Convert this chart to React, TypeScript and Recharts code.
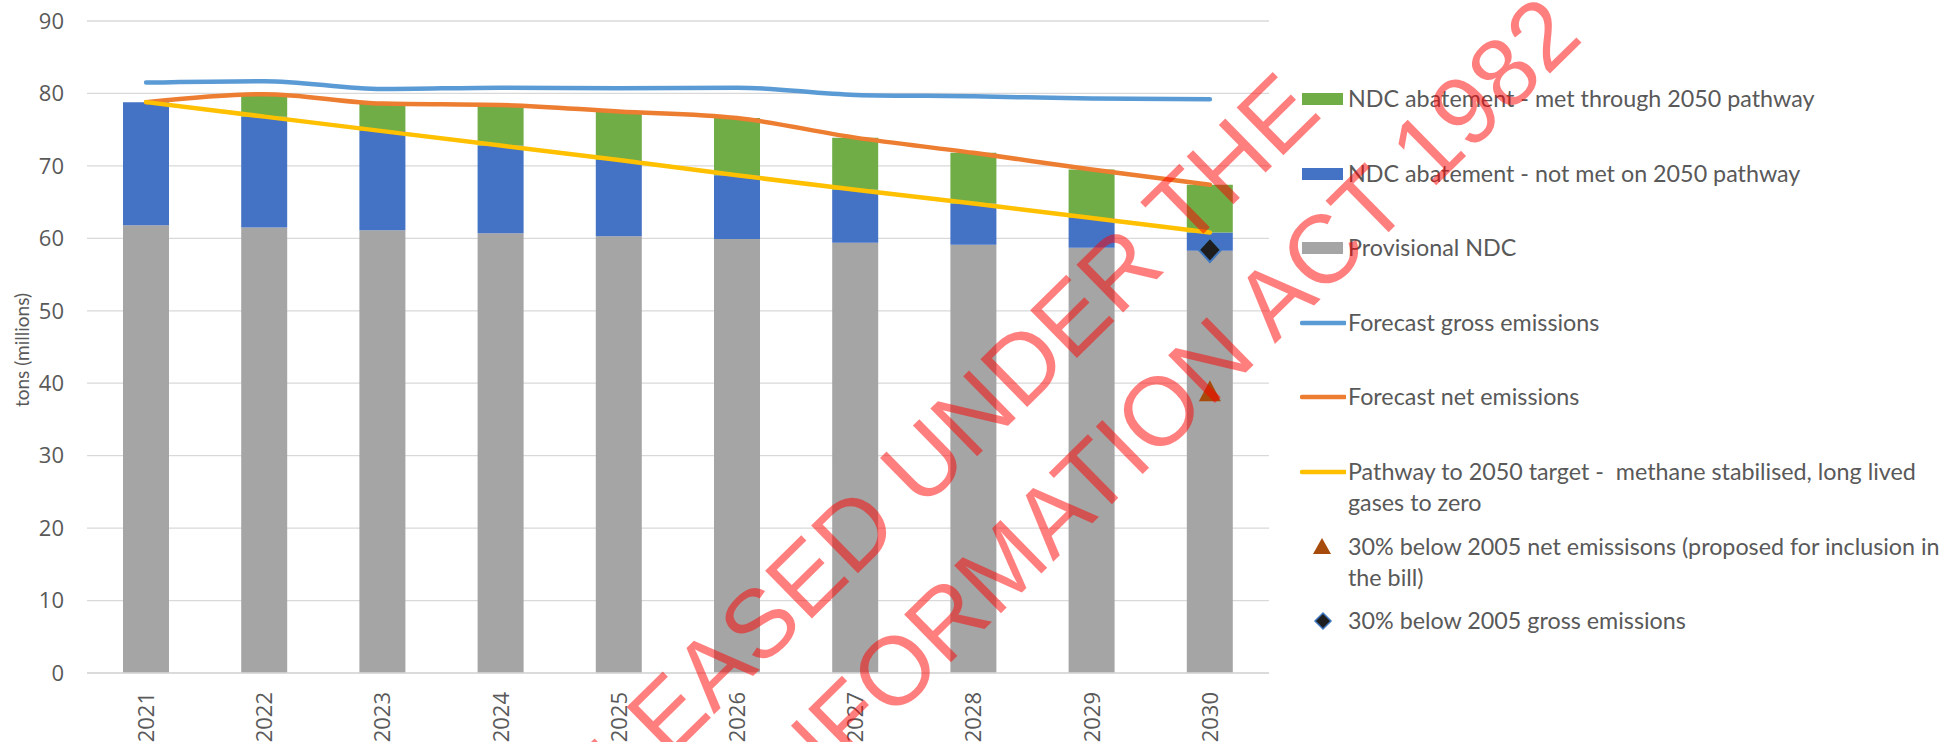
import React from "react";
import {
  ComposedChart,
  Bar,
  Line,
  XAxis,
  YAxis,
  CartesianGrid,
  Label,
} from "recharts";

// values (tons, millions)
const YEARS = ["2021", "2022", "2023", "2024", "2025", "2026", "2027", "2028", "2029", "2030"];
const PROVISIONAL_NDC = [61.8, 61.5, 61.1, 60.7, 60.3, 59.9, 59.4, 59.1, 58.7, 58.3];
const NOT_MET = [17.0, 15.3, 13.7, 12.1, 10.5, 8.8, 7.3, 5.7, 4.1, 2.5];
const MET = [0, 3.1, 3.8, 5.6, 6.7, 7.9, 7.2, 7.0, 6.7, 6.6];
const GROSS = [81.5, 81.7, 80.6, 80.8, 80.7, 80.8, 79.8, 79.6, 79.3, 79.2];
const NET = [78.8, 79.9, 78.6, 78.4, 77.5, 76.6, 73.9, 71.8, 69.5, 67.4];
const PATHWAY = [78.8, 76.8, 74.8, 72.8, 70.8, 68.7, 66.7, 64.8, 62.8, 60.8];
const NET_2005_TARGET = [null, null, null, null, null, null, null, null, null, 38.9];
const GROSS_2005_TARGET = [null, null, null, null, null, null, null, null, null, 58.4];
const Y_TICKS = [0, 10, 20, 30, 40, 50, 60, 70, 80, 90];

const COLORS = {
  met: "#70AD47",
  notMet: "#4472C4",
  provisional: "#A5A5A5",
  gross: "#5B9BD5",
  net: "#ED7D31",
  pathway: "#FFC000",
  triangle: "#A64B0C",
  diamond: "#1E1E1E",
  diamondEdge: "#3F78C0",
};

const LEGEND = [
  { kind: "rect", color: COLORS.met, lines: ["NDC abatement - met through 2050 pathway"] },
  { kind: "rect", color: COLORS.notMet, lines: ["NDC abatement - not met on 2050 pathway"] },
  { kind: "rect", color: COLORS.provisional, lines: ["Provisional NDC"] },
  { kind: "line", color: COLORS.gross, lines: ["Forecast gross emissions"] },
  { kind: "line", color: COLORS.net, lines: ["Forecast net emissions"] },
  {
    kind: "line",
    color: COLORS.pathway,
    lines: ["Pathway to 2050 target -  methane stabilised, long lived", "gases to zero"],
  },
  {
    kind: "triangle",
    color: COLORS.triangle,
    lines: ["30% below 2005 net emissisons (proposed for inclusion in", "the bill)"],
  },
  { kind: "diamond", color: COLORS.diamond, lines: ["30% below 2005 gross emissions"] },
];

const data = YEARS.map((year, i) => ({
  year,
  provisional: PROVISIONAL_NDC[i],
  notMet: NOT_MET[i],
  met: MET[i],
  gross: GROSS[i],
  net: NET[i],
  pathway: PATHWAY[i],
  net2005: NET_2005_TARGET[i],
  gross2005: GROSS_2005_TARGET[i],
}));

const GRAY_TEXT = "#595959";

const YearTick = (props: any) => {
  const { x, y, payload } = props;
  return (
    <g transform={`translate(${x},${y + 17})`}>
      <text
        transform="rotate(-90)"
        textAnchor="end"
        dy="0.36em"
        fill={GRAY_TEXT}
        fontFamily="Open Sans"
        fontSize={22}
      >
        {payload.value}
      </text>
    </g>
  );
};

const TriangleDot = (props: any) => {
  const { cx, cy, value, index } = props;
  if (value == null || cx == null || cy == null) return <g key={`t${index}`} />;
  return (
    <polygon
      key={`t${index}`}
      points={`${cx},${cy - 11} ${cx + 11},${cy + 10} ${cx - 11},${cy + 10}`}
      fill={COLORS.triangle}
    />
  );
};

const DiamondDot = (props: any) => {
  const { cx, cy, value, index } = props;
  if (value == null || cx == null || cy == null) return <g key={`d${index}`} />;
  return (
    <polygon
      key={`d${index}`}
      points={`${cx},${cy - 12} ${cx + 11},${cy} ${cx},${cy + 12} ${cx - 11},${cy}`}
      fill={COLORS.diamond}
      stroke={COLORS.diamondEdge}
      strokeWidth={2}
    />
  );
};

const LegendIcon = ({ kind, color }: { kind: string; color: string }) => {
  if (kind === "rect")
    return (
      <svg width={46} height={31} style={{ position: "absolute", left: 0, top: 0 }}>
        <rect x={2} y={10} width={41} height={12} fill={color} />
      </svg>
    );
  if (kind === "line")
    return (
      <svg width={46} height={31} style={{ position: "absolute", left: 0, top: 0 }}>
        <line x1={2} y1={16} x2={45} y2={16} stroke={color} strokeWidth={4.5} strokeLinecap="round" />
      </svg>
    );
  if (kind === "triangle")
    return (
      <svg width={46} height={31} style={{ position: "absolute", left: 0, top: 0 }}>
        <polygon points="22,7 31,23 13,23" fill={color} />
      </svg>
    );
  return (
    <svg width={46} height={31} style={{ position: "absolute", left: 0, top: 0 }}>
      <polygon points="23,8 31,16 23,24 15,16" fill={color} stroke={COLORS.diamondEdge} strokeWidth={1.5} />
    </svg>
  );
};

const ChartLegend = () => (
  <div style={{ position: "absolute", left: 1300, top: 83, width: 650 }}>
    {LEGEND.map((item, i) => (
      <div key={i} style={{ position: "absolute", left: 0, top: i * 74.6, width: 650, height: 70 }}>
        <LegendIcon kind={item.kind} color={item.color} />
        <div
          style={{
            position: "absolute",
            left: 48,
            top: 0,
            fontFamily: "Lato",
            fontSize: 23.3,
            lineHeight: "31px",
            color: GRAY_TEXT,
            whiteSpace: "pre",
          }}
        >
          {item.lines.map((l, j) => (
            <div key={j}>{l}</div>
          ))}
        </div>
      </div>
    ))}
  </div>
);

const Watermark = () => (
  <svg
    width={1950}
    height={742}
    style={{ position: "absolute", left: 0, top: 0, pointerEvents: "none" }}
  >
    <g fill="#FF0000" fillOpacity={0.5} fontFamily="Liberation Sans" fontSize={97}>
      <text x={905} y={480} textAnchor="middle" dominantBaseline="central" transform="rotate(-44.5 905 480)">
        RELEASED UNDER THE
      </text>
      <text x={995} y={572} textAnchor="middle" dominantBaseline="central" transform="rotate(-44.5 995 572)">
        OFFICIAL INFORMATION ACT 1982
      </text>
    </g>
  </svg>
);

export default function App() {
  return (
    <div
      style={{
        position: "absolute",
        left: 0,
        top: 0,
        width: 1950,
        height: 742,
        overflow: "hidden",
        background: "#fff",
      }}
    >
      <ComposedChart
        width={1950}
        height={742}
        data={data}
        margin={{ top: 21, right: 681, bottom: 0, left: 0 }}
        barCategoryGap="61%"
      >
        <CartesianGrid vertical={false} stroke="#D9D9D9" strokeWidth={1.3} />
        <XAxis
          dataKey="year"
          height={69}
          tickLine={false}
          tickSize={0}
          axisLine={{ stroke: "#D9D9D9", strokeWidth: 1.3 }}
          tick={<YearTick />}
          interval={0}
        />
        <YAxis
          width={87}
          domain={[0, 90]}
          ticks={Y_TICKS}
          interval={0}
          tickLine={false}
          tickSize={0}
          tickMargin={23}
          axisLine={false}
          tick={{ fill: GRAY_TEXT, fontFamily: "Open Sans", fontSize: 22 }}
        >
          <Label
            content={() => (
              <text
                x={21}
                y={350}
                transform="rotate(-90 21 350)"
                textAnchor="middle"
                dominantBaseline="central"
                fill={GRAY_TEXT}
                fontFamily="Lato"
                fontSize={19}
              >
                tons (millions)
              </text>
            )}
          />
        </YAxis>
        <Bar dataKey="provisional" stackId="a" fill={COLORS.provisional} barSize={46} isAnimationActive={false} />
        <Bar dataKey="notMet" stackId="a" fill={COLORS.notMet} barSize={46} isAnimationActive={false} />
        <Bar dataKey="met" stackId="a" fill={COLORS.met} barSize={46} isAnimationActive={false} />
        <Line
          type="monotone"
          dataKey="gross"
          stroke={COLORS.gross}
          strokeWidth={4.5}
          strokeLinecap="round"
          dot={false}
          activeDot={false}
          isAnimationActive={false}
        />
        <Line
          type="monotone"
          dataKey="net"
          stroke={COLORS.net}
          strokeWidth={4.5}
          strokeLinecap="round"
          dot={false}
          activeDot={false}
          isAnimationActive={false}
        />
        <Line
          type="linear"
          dataKey="pathway"
          stroke={COLORS.pathway}
          strokeWidth={4.5}
          strokeLinecap="round"
          dot={false}
          activeDot={false}
          isAnimationActive={false}
        />
        <Line
          dataKey="net2005"
          stroke="none"
          dot={<TriangleDot />}
          activeDot={false}
          legendType="triangle"
          isAnimationActive={false}
        />
        <Line
          dataKey="gross2005"
          stroke="none"
          dot={<DiamondDot />}
          activeDot={false}
          legendType="diamond"
          isAnimationActive={false}
        />
      </ComposedChart>
      <ChartLegend />
      <Watermark />
    </div>
  );
}
